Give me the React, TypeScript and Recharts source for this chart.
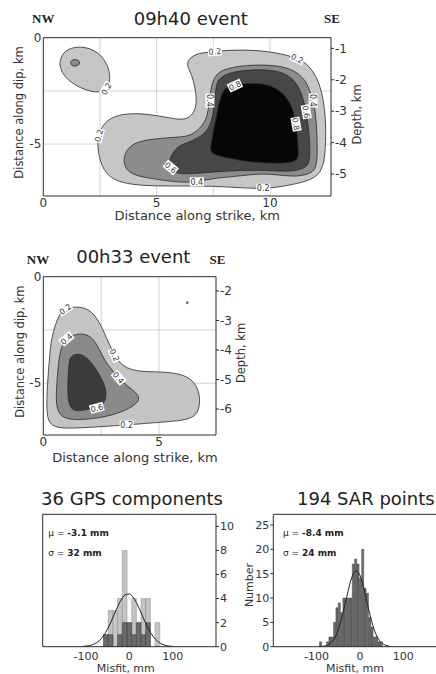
import {
  ScatterChart,
  Scatter,
  ComposedChart,
  Bar,
  Line,
  XAxis,
  YAxis,
  ReferenceLine,
} from "recharts"

type Pt = [number, number]
type Lab = [number, number, string]

// ---- 09h40 event: contour outlines (km along strike, km along dip)
const E1_LOBE_02: Pt[] = [
  [0.74, -0.97], [1.03, -0.5], [1.76, -0.39], [2.43, -0.66], [2.87, -1.28], [2.97, -1.99],
  [2.8, -2.46], [2.36, -2.61], [1.62, -2.38], [0.96, -1.91], [0.71, -1.36],
]
const E1_LOBE_04: Pt[] = [
  [1.18, -1.18], [1.24, -1.06], [1.4, -1.01], [1.56, -1.06], [1.62, -1.18], [1.56, -1.3],
  [1.4, -1.35], [1.24, -1.3],
]
const E1_C02: Pt[] = [
  [6.38, -1.05], [6.69, -0.77], [7.27, -0.67], [8.24, -0.58], [9.12, -0.58], [10.0, -0.65],
  [11.01, -0.88], [11.63, -1.19], [12.07, -1.83], [12.35, -2.77], [12.47, -4.01], [12.45, -5.28],
  [12.34, -6.13], [12.03, -6.55], [11.54, -6.78], [10.44, -7.02], [9.69, -7.09], [8.9, -7.07],
  [7.49, -6.97], [6.03, -6.97], [4.71, -6.97], [3.68, -6.88], [2.94, -6.61], [2.58, -6.06],
  [2.43, -5.43], [2.38, -4.81], [2.5, -4.34], [2.8, -3.87], [3.38, -3.59], [4.27, -3.55],
  [5.15, -3.68], [6.03, -3.87], [6.4, -3.79], [6.69, -3.48], [6.77, -2.93], [6.69, -2.3],
  [6.55, -1.75], [6.34, -1.33],
]
const E1_C04: Pt[] = [
  [7.65, -1.67], [8.09, -1.44], [8.97, -1.28], [10.15, -1.28], [10.88, -1.44], [11.47, -1.83],
  [11.76, -2.46], [11.98, -3.24], [12.06, -4.18], [12.09, -5.28], [12.06, -6.06], [11.84, -6.38],
  [11.18, -6.54], [10.44, -6.46], [9.7, -6.38], [8.97, -6.46], [8.24, -6.54], [7.5, -6.61],
  [6.77, -6.77], [6.03, -6.82], [4.71, -6.61], [3.97, -6.46], [3.6, -6.14], [3.53, -5.67],
  [3.71, -5.2], [4.12, -4.89], [4.85, -4.76], [5.73, -4.68], [6.47, -4.65], [6.91, -4.26],
  [7.18, -3.87], [7.28, -3.4], [7.35, -2.77], [7.43, -2.14],
]
const E1_C06: Pt[] = [
  [7.72, -1.91], [8.24, -1.63], [8.97, -1.52], [9.85, -1.49], [10.59, -1.63], [11.1, -1.99],
  [11.4, -2.61], [11.59, -3.4], [11.69, -4.18], [11.76, -4.96], [11.76, -5.75], [11.62, -6.14],
  [10.88, -6.3], [10.15, -6.25], [8.97, -6.22], [7.5, -6.3], [6.03, -6.46], [5.62, -6.22],
  [5.51, -5.83], [5.73, -5.36], [6.03, -5.04], [6.47, -4.89], [6.62, -4.81], [7.06, -4.57],
  [7.35, -4.18], [7.5, -3.55], [7.57, -2.85], [7.62, -2.3],
]
const E1_C08: Pt[] = [
  [8.09, -2.3], [8.53, -2.18], [9.26, -2.14], [9.85, -2.18], [10.44, -2.46], [10.88, -3.01],
  [11.1, -3.71], [11.2, -4.49], [11.25, -5.28], [11.25, -5.75], [10.88, -5.88], [10.15, -5.91],
  [8.97, -5.83], [8.24, -5.67], [7.5, -5.51], [7.35, -5.28], [7.43, -4.81], [7.57, -4.02],
  [7.72, -3.24], [7.87, -2.61],
]
const E1_LABELS: Lab[] = [
  [7.57, -0.64, "0.2"], [11.2, -0.98, "0.2"], [2.78, -2.4, "0.2"], [2.45, -4.6, "0.2"],
  [7.35, -2.95, "0.4"], [11.9, -2.95, "0.4"], [8.45, -2.25, "0.8"], [11.6, -3.48, "0.6"],
  [11.15, -4.06, "0.8"], [5.62, -6.1, "0.6"], [6.77, -6.77, "0.4"], [9.7, -7.08, "0.2"],
]

// ---- 00h33 event
const E2_C02: Pt[] = [
  [0.8, -1.64], [1.01, -1.46], [1.44, -1.41], [1.88, -1.48], [2.23, -1.8], [2.52, -2.35],
  [2.74, -2.89], [2.96, -3.44], [3.24, -3.99], [3.6, -4.3], [4.18, -4.46], [5.04, -4.46],
  [5.91, -4.54], [6.48, -4.85], [6.74, -5.4], [6.77, -6.02], [6.63, -6.49], [6.2, -6.73],
  [5.33, -6.81], [4.47, -6.88], [3.6, -6.96], [2.45, -7.04], [1.44, -7.11], [0.72, -7.11],
  [0.29, -6.96], [0.15, -6.49], [0.15, -5.55], [0.22, -4.46], [0.29, -3.52], [0.36, -2.89],
  [0.51, -2.27], [0.69, -1.8],
]
const E2_DOT_02: Pt[] = [[6.15, -1.22], [6.22, -1.15], [6.29, -1.22], [6.22, -1.29]]
const E2_C04: Pt[] = [
  [0.86, -3.05], [1.23, -2.74], [1.66, -2.66], [2.02, -2.77], [2.31, -3.16], [2.52, -3.63],
  [2.74, -4.1], [3.1, -4.54], [3.46, -5.0], [3.89, -5.32], [4.15, -5.63], [4.11, -5.87],
  [3.75, -6.18], [3.03, -6.49], [2.31, -6.65], [1.44, -6.73], [0.86, -6.65], [0.58, -6.26],
  [0.55, -5.55], [0.61, -4.62], [0.69, -3.68],
]
const E2_C06: Pt[] = [
  [1.23, -3.68], [1.59, -3.6], [1.94, -3.83], [2.31, -4.38], [2.59, -4.93], [2.74, -5.4],
  [2.67, -5.87], [2.45, -6.1], [2.02, -6.21], [1.51, -6.31], [1.23, -6.26], [1.08, -5.87],
  [1.05, -5.24], [1.08, -4.46], [1.12, -3.91],
]
const E2_LABELS: Lab[] = [
  [0.95, -1.52, "0.2"], [1.0, -2.92, "0.4"], [3.08, -3.68, "0.2"], [3.25, -4.74, "0.4"],
  [2.31, -6.16, "0.6"], [3.6, -6.96, "0.2"],
]

// ---- misfit histograms (mm, counts)
const GPS_BIN_MM = [-54, -43.2, -32.4, -21.6, -10.8, 0, 10.8, 21.6, 32.4, 43.2, 54, 64.8]
const GPS_LIGHT = [1, 3, 3, 4, 8, 2, 4, 2, 4, 4, 0, 2]
const GPS_DARK = [1, 1, 0, 1, 2, 2, 1, 2, 1, 2, 0, 0]
const GPS_FIT_MM = [-110, -100, -90, -80, -70, -60, -50, -40, -30, -20, -10, 0, 10, 20, 30, 40, 50, 60, 70, 80, 90, 100]
const GPS_FIT_N = [0.02, 0.05, 0.11, 0.25, 0.49, 0.9, 1.5, 2.26, 3.09, 3.83, 4.3, 4.38, 4.05, 3.39, 2.58, 1.78, 1.11, 0.63, 0.32, 0.15, 0.06, 0.03]
const GPS_MEAN = "-3.1"
const GPS_SIGMA = "32"

const SAR_BIN_MM = [
  -90.6, -85.2, -79.8, -74.4, -69.0, -63.6, -58.2, -52.8, -47.4, -42.0, -36.6, -31.2, -25.8, -20.4,
  -15.0, -9.6, -4.2, 1.2, 6.6, 12.0, 17.4, 22.8, 28.2, 33.6, 39.0, 44.4, 49.8,
]
const SAR_COUNT = [1, 0, 0, 1, 2, 2, 5, 8, 9, 7, 10, 10, 10, 10, 17, 18, 17, 14, 20, 12, 11, 6, 4, 2, 2, 1, 1]
const SAR_FIT_MM = [-95, -90, -80, -70, -60, -50, -40, -30, -20, -10, -5, 0, 10, 20, 30, 40, 50, 60, 70]
const SAR_FIT_N = [0.02, 0.05, 0.18, 0.58, 1.5, 3.5, 6.6, 10.4, 13.9, 15.6, 15.4, 14.7, 11.6, 7.7, 4.3, 2.0, 0.8, 0.27, 0.07]
const SAR_MEAN = "-8.4"
const SAR_SIGMA = "24"

// axis ticks
const E1_X_TICKS = [0, 5, 10]
const E1_X_MINOR = [1, 2, 3, 4, 5, 6, 7, 8, 9, 10, 11, 12]
const E1_DEPTH_TICKS = [-1, -2, -3, -4, -5]
const E2_X_TICKS = [0, 5]
const E2_X_MINOR = [1, 2, 3, 4, 5, 6, 7]
const E2_DEPTH_TICKS = [-2, -3, -4, -5, -6]
const DIP_TICKS = [0, -5]
const DIP_MINOR = [-1, -2, -3, -4, -5, -6, -7]
const GRID_X1 = [2.5, 5, 7.5, 10]
const GRID_X2 = [2.5, 5]
const GRID_Y = [-2.5, -5]
const MISFIT_TICKS = [-100, 0, 100]
const MISFIT_MINOR = [-180, -160, -140, -120, -100, -80, -60, -40, -20, 0, 20, 40, 60, 80, 100, 120, 140, 160, 180]
const GPS_N_TICKS = [0, 2, 4, 6, 8, 10]
const SAR_N_TICKS = [0, 5, 10, 15, 20, 25]

const AX = "#2b2b2b"
const TXT = "#333"
const tick12 = { fontSize: 12, fill: TXT }
const tick11 = { fontSize: 11, fill: TXT }

const E1_FILLS = ["#c6c6c6", "#8c8c8c", "#474747", "#060606"]
const E2_FILLS = ["#c4c4c4", "#8a8a8a", "#3c3c3c"]
const E1_ROT = [-5, 25, -60, -75, 90, 90, -25, 80, 80, 40, 0, 0]
const E2_ROT = [-35, -40, 65, 50, -15, 0]

const toXY = (pts: Pt[]) => pts.map(([x, y]) => ({ x, y }))
const NoDot = () => <g />

const LabelMark = (props: any) => {
  const { cx, cy, payload } = props
  return (
    <g transform={`translate(${cx},${cy}) rotate(${payload.r})`}>
      <rect x={-7} y={-4.5} width={14} height={9} fill="#fff" />
      <text x={0} y={3} textAnchor="middle" fontSize={8} fill="#333">
        {payload.t}
      </text>
    </g>
  )
}

type Layer = { pts: Pt[]; fill: string }

function ContourPanel(p: {
  top: number
  width: number
  height: number
  margin: { top: number; right: number; bottom: number; left: number }
  xMax: number
  yMin: number
  depth: [number, number]
  xTicks: number[]
  xMinor: number[]
  depthTicks: number[]
  gridX: number[]
  layers: Layer[]
  labels: Lab[]
  rots: number[]
  xLab: [number, number]
  yLab: [number, number]
  dLab: [number, number]
}) {
  const lab = p.labels.map(([x, y, t], i) => ({ x, y, t, r: p.rots[i] }))
  const xDom: [number, number] = [0, p.xMax]
  const yDom: [number, number] = [p.yMin, 0]
  return (
    <div style={{ position: "absolute", left: 0, top: p.top }}>
      <ScatterChart width={p.width} height={p.height} margin={p.margin}>
        <XAxis
          xAxisId="x" type="number" dataKey="x" domain={xDom} allowDataOverflow
          ticks={p.xTicks} interval={0} tickLine={false} tickSize={0} tickMargin={2}
          height={30} stroke={AX} tick={tick12}
          label={{ value: "Distance along strike, km", position: "center", dx: p.xLab[0], dy: p.xLab[1], fontSize: 13, fill: TXT }}
        />
        <XAxis
          xAxisId="xm" type="number" domain={xDom} allowDataOverflow ticks={p.xMinor}
          interval={0} mirror tick={false} tickSize={3} axisLine={false} stroke={AX}
        />
        <XAxis
          xAxisId="xt" orientation="top" type="number" domain={xDom} allowDataOverflow
          ticks={p.xMinor} interval={0} mirror tick={false} tickSize={3} stroke={AX}
        />
        <YAxis
          yAxisId="dip" type="number" dataKey="y" domain={yDom} allowDataOverflow
          ticks={DIP_TICKS} interval={0} tickLine={false} tickSize={0} tickMargin={2}
          width={30} stroke={AX} tick={tick12}
          label={{ value: "Distance along dip, km", angle: -90, position: "center", dx: p.yLab[0], dy: p.yLab[1], fontSize: 11.5, fill: TXT }}
        />
        <YAxis
          yAxisId="dm" type="number" domain={yDom} allowDataOverflow ticks={DIP_MINOR}
          interval={0} mirror tick={false} tickSize={3} axisLine={false} stroke={AX}
        />
        <YAxis
          yAxisId="depth" orientation="right" type="number" domain={p.depth} allowDataOverflow
          ticks={p.depthTicks} interval={0} tickSize={3} tickMargin={1} width={40}
          stroke={AX} tick={{ ...tick12, textAnchor: "start" }}
          label={{ value: "Depth, km", angle: -90, position: "center", dx: p.dLab[0], dy: p.dLab[1], fontSize: 11.5, fill: TXT }}
        />
        {p.layers.map((l, i) => (
          <Scatter
            key={"c" + i}
            xAxisId="x"
            yAxisId="dip"
            data={toXY(l.pts)}
            line={{ fill: l.fill, stroke: "#2a2a2a", strokeWidth: 0.8 }}
            lineJointType="basisClosed"
            shape={NoDot}
            isAnimationActive={false}
          />
        ))}
        {p.gridX.map((v) => (
          <ReferenceLine key={"gx" + v} xAxisId="x" yAxisId="dip" x={v} stroke="#888" strokeOpacity={0.35} />
        ))}
        {GRID_Y.map((v) => (
          <ReferenceLine key={"gy" + v} xAxisId="x" yAxisId="dip" y={v} stroke="#888" strokeOpacity={0.35} />
        ))}
        <Scatter xAxisId="x" yAxisId="dip" data={lab} shape={LabelMark} isAnimationActive={false} />
      </ScatterChart>
    </div>
  )
}

const gpsRows = GPS_BIN_MM.map((mm, i) => ({ mm, light: GPS_LIGHT[i], dark: GPS_DARK[i] }))
const gpsFit = GPS_FIT_MM.map((mm, i) => ({ mm, n: GPS_FIT_N[i] }))
const sarRows = SAR_BIN_MM.map((mm, i) => ({ mm, n: SAR_COUNT[i] }))
const sarFit = SAR_FIT_MM.map((mm, i) => ({ mm, n: SAR_FIT_N[i] }))
const MISFIT_DOM: [number, number] = [-200, 200]

function StatText({ x, mean, sigma }: { x: number; mean: string; sigma: string }) {
  return (
    <g fontSize={9} fill="#222" style={{ whiteSpace: "pre" }}>
      <text x={x} y={536}>
        <tspan>{"\u03bc =  "}</tspan>
        <tspan fontWeight="bold">{`${mean}  mm`}</tspan>
      </text>
      <text x={x} y={556}>
        <tspan>{"\u03c3 =  "}</tspan>
        <tspan fontWeight="bold">{`${sigma}  mm`}</tspan>
      </text>
    </g>
  )
}

export default function App() {
  return (
    <div
      style={{
        position: "absolute",
        left: 0,
        top: 0,
        width: 436,
        height: 674,
        overflow: "hidden",
        background: "#fff",
        fontFamily: "'DejaVu Sans', sans-serif",
      }}
    >
      <ContourPanel
        top={0}
        width={436}
        height={230}
        margin={{ top: 37.7, right: 65, bottom: 4, left: 13.3 }}
        xMax={12.69}
        yMin={-7.44}
        depth={[-5.7, -0.66]}
        xTicks={E1_X_TICKS}
        xMinor={E1_X_MINOR}
        depthTicks={E1_DEPTH_TICKS}
        gridX={GRID_X1}
        layers={[
          { pts: E1_LOBE_02, fill: E1_FILLS[0] },
          { pts: E1_LOBE_04, fill: E1_FILLS[1] },
          { pts: E1_C02, fill: E1_FILLS[0] },
          { pts: E1_C04, fill: E1_FILLS[1] },
          { pts: E1_C06, fill: E1_FILLS[2] },
          { pts: E1_C08, fill: E1_FILLS[3] },
        ]}
        labels={E1_LABELS}
        rots={E1_ROT}
        xLab={[10, 4.5]}
        yLab={[-9.3, -4.4]}
        dLab={[5.7, -2.4]}
      />
      <ContourPanel
        top={250}
        width={300}
        height={220}
        margin={{ top: 26.7, right: 44, bottom: 5, left: 13.3 }}
        xMax={7.46}
        yMin={-7.43}
        depth={[-6.88, -1.515]}
        xTicks={E2_X_TICKS}
        xMinor={E2_X_MINOR}
        depthTicks={E2_DEPTH_TICKS}
        gridX={GRID_X2}
        layers={[
          { pts: E2_DOT_02, fill: E2_FILLS[0] },
          { pts: E2_C02, fill: E2_FILLS[0] },
          { pts: E2_C04, fill: E2_FILLS[1] },
          { pts: E2_C06, fill: E2_FILLS[2] },
        ]}
        labels={E2_LABELS}
        rots={E2_ROT}
        xLab={[5.3, 7.5]}
        yLab={[-8.8, -4.2]}
        dLab={[4.8, -2.9]}
      />

      {/* GPS misfit histogram */}
      <div style={{ position: "absolute", left: 0, top: 480 }}>
        <ComposedChart width={270} height={194} data={gpsRows} margin={{ top: 34.3, right: 9, bottom: 5.3, left: 42.7 }}>
          <XAxis
            xAxisId="a" type="number" dataKey="mm" domain={MISFIT_DOM} allowDataOverflow
            ticks={MISFIT_TICKS} interval={0} tickLine={false} tickSize={0} tickMargin={5}
            height={22} stroke={AX} tick={tick11}
            label={{ value: "Misfit, mm", position: "center", dx: -3.5, dy: 10.7, fontSize: 11, fill: TXT }}
          />
          <XAxis xAxisId="b" type="number" dataKey="mm" domain={MISFIT_DOM} allowDataOverflow hide />
          <XAxis xAxisId="c" type="number" dataKey="mm" domain={MISFIT_DOM} allowDataOverflow hide />
          <XAxis
            xAxisId="m" type="number" domain={MISFIT_DOM} allowDataOverflow ticks={MISFIT_MINOR}
            interval={0} mirror tick={false} tickSize={3} axisLine={false} stroke={AX}
          />
          <XAxis
            xAxisId="t" orientation="top" type="number" domain={MISFIT_DOM} allowDataOverflow
            ticks={MISFIT_MINOR} interval={0} mirror tick={false} tickSize={3} stroke={AX}
          />
          <YAxis
            yAxisId="n" orientation="right" type="number" domain={[0, 11]} allowDataOverflow
            ticks={GPS_N_TICKS} interval={0} tickSize={3} tickMargin={1} width={45}
            stroke={AX} tick={{ ...tick11, textAnchor: "start" }}
            label={{ value: "Number", angle: -90, position: "center", dx: 10.5, dy: 4.5, fontSize: 11, fill: TXT }}
          />
          <YAxis
            yAxisId="nl" type="number" domain={[0, 11]} allowDataOverflow ticks={GPS_N_TICKS}
            interval={0} mirror tick={false} tickSize={3} stroke={AX}
          />
          <Bar xAxisId="a" yAxisId="n" dataKey="light" barSize={4.67} fill="#c4c4c4" stroke="#8a8a8a" strokeWidth={0.5} isAnimationActive={false} />
          <Bar xAxisId="b" yAxisId="n" dataKey="dark" barSize={4.67} fill="#6a6a6a" stroke="#3a3a3a" strokeWidth={0.5} isAnimationActive={false} />
          <Line xAxisId="c" yAxisId="n" data={gpsFit} dataKey="n" type="monotone" dot={false} stroke="#222" strokeWidth={1} isAnimationActive={false} />
        </ComposedChart>
      </div>

      {/* SAR misfit histogram */}
      <div style={{ position: "absolute", left: 230, top: 480 }}>
        <ComposedChart width={220} height={194} data={sarRows} margin={{ top: 34.3, right: 3.4, bottom: 5.3, left: 8.3 }}>
          <XAxis
            xAxisId="a" type="number" dataKey="mm" domain={MISFIT_DOM} allowDataOverflow
            ticks={MISFIT_TICKS} interval={0} tickLine={false} tickSize={0} tickMargin={5}
            height={22} stroke={AX} tick={tick11}
            label={{ value: "Misfit, mm", position: "center", dx: -5, dy: 10.7, fontSize: 11, fill: TXT }}
          />
          <XAxis xAxisId="c" type="number" dataKey="mm" domain={MISFIT_DOM} allowDataOverflow hide />
          <XAxis
            xAxisId="m" type="number" domain={MISFIT_DOM} allowDataOverflow ticks={MISFIT_MINOR}
            interval={0} mirror tick={false} tickSize={3} axisLine={false} stroke={AX}
          />
          <XAxis
            xAxisId="t" orientation="top" type="number" domain={MISFIT_DOM} allowDataOverflow
            ticks={MISFIT_MINOR} interval={0} mirror tick={false} tickSize={3} stroke={AX}
          />
          <YAxis
            yAxisId="n" type="number" domain={[0, 27.2]} allowDataOverflow ticks={SAR_N_TICKS}
            interval={0} tickSize={3} tickMargin={1} width={35} stroke={AX} tick={tick11}
          />
          <Bar xAxisId="a" yAxisId="n" dataKey="n" barSize={2.34} fill="#6e6e6e" stroke="#2a2a2a" strokeWidth={0.4} isAnimationActive={false} />
          <Line xAxisId="c" yAxisId="n" data={sarFit} dataKey="n" type="monotone" dot={false} stroke="#222" strokeWidth={1} isAnimationActive={false} />
        </ComposedChart>
      </div>

      {/* titles and annotations */}
      <svg width={436} height={674} style={{ position: "absolute", left: 0, top: 0, pointerEvents: "none" }}>
        <g fontFamily="'Liberation Serif', serif" fontWeight="bold" fontSize={13} fill="#222" textAnchor="middle">
          <text x={43.3} y={22.7}>NW</text>
          <text x={332} y={22.7}>SE</text>
          <text x={38} y={264.3}>NW</text>
          <text x={217.5} y={264.3}>SE</text>
        </g>
        <g fontSize={18} fill="#222">
          <text x={190.8} y={25} textAnchor="middle">09h40 event</text>
          <text x={133.3} y={263.3} textAnchor="middle">00h33 event</text>
          <text x={132} y={505} textAnchor="middle">36 GPS components</text>
          <text x={297} y={505}>194 SAR points</text>
        </g>
        <StatText x={48.3} mean={GPS_MEAN} sigma={GPS_SIGMA} />
        <StatText x={283} mean={SAR_MEAN} sigma={SAR_SIGMA} />
      </svg>
    </div>
  )
}
